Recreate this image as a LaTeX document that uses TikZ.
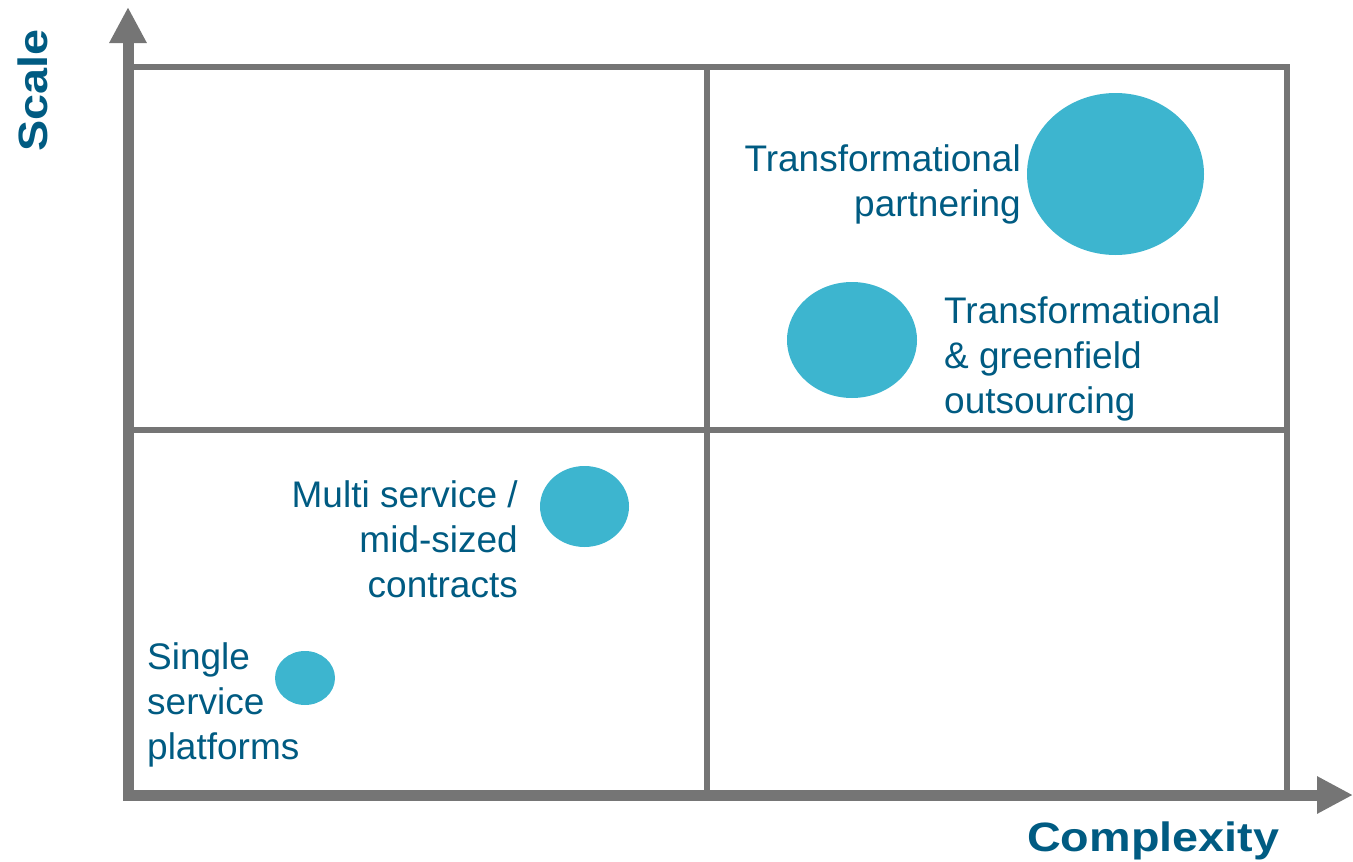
\documentclass[tikz,border=0pt]{standalone}
\usepackage{fontspec}
\setmainfont{Liberation Sans}
\usetikzlibrary{arrows.meta}

\definecolor{axisgray}{HTML}{757575}
\definecolor{labelblue}{HTML}{005B82}
\definecolor{bubble}{HTML}{3DB5CF}

\tikzset{
  gridline/.style={draw=axisgray, line width=6pt},
  axisline/.style={draw=axisgray, line width=11pt, line join=miter,
    {Triangle[width=35pt,length=36pt]}-{Triangle[width=35pt,length=36pt]}},
  bubbleshape/.style={fill=bubble, draw=none},
  label/.style={text=labelblue, inner sep=0pt, font=\fontsize{37}{45}\selectfont},
  axislabel/.style={text=labelblue, inner sep=0pt, font=\fontsize{41}{48}\selectfont\bfseries},
}

\begin{document}
\begin{tikzpicture}[x=1pt, y=-1pt]
  \useasboundingbox (0,0) rectangle (1353,862);

  % quadrant grid
  \draw[gridline] (128,67) rectangle (1287,795);
  \draw[gridline] (707,67) -- (707,795);
  \draw[gridline] (128,429.5) -- (1287,429.5);

  % axes
  \coordinate (ytip) at (128,7);
  \coordinate (origin) at (128,795);
  \coordinate (xtip) at (1353,795);
  \draw[axisline] (ytip) -- (origin) -- (xtip);

  % axis titles
  \node[axislabel, anchor=base west] (xlabel) at (1027,851) {\scalebox{1.14}[1]{Complexity}};
  \node[axislabel, anchor=base west, rotate=90] (ylabel) at (47,152) {\scalebox{1.14}[1]{Scale}};

  % bubbles
  \fill[bubbleshape] (1115.5,174) ellipse [x radius=88.5, y radius=81];
  \fill[bubbleshape] (852,340) ellipse [x radius=65, y radius=58];
  \fill[bubbleshape] (584.5,506.5) ellipse [x radius=44.5, y radius=40.5];
  \fill[bubbleshape] (305,678) ellipse [x radius=30, y radius=27];

  % bubble labels (base anchor sits on the last line)
  \node[label, align=right, anchor=base east] (partnering) at (1021,216.5)
    {Transformational\\partnering};
  \node[label, align=left, anchor=base west] (greenfield) at (944,413)
    {Transformational\\\& greenfield\\outsourcing};
  \node[label, align=right, anchor=base east] (multi) at (518,597.5)
    {Multi service /\\mid-sized\\contracts};
  \node[label, align=left, anchor=base west] (single) at (147,759)
    {Single\\service\\platforms};
\end{tikzpicture}
\end{document}
